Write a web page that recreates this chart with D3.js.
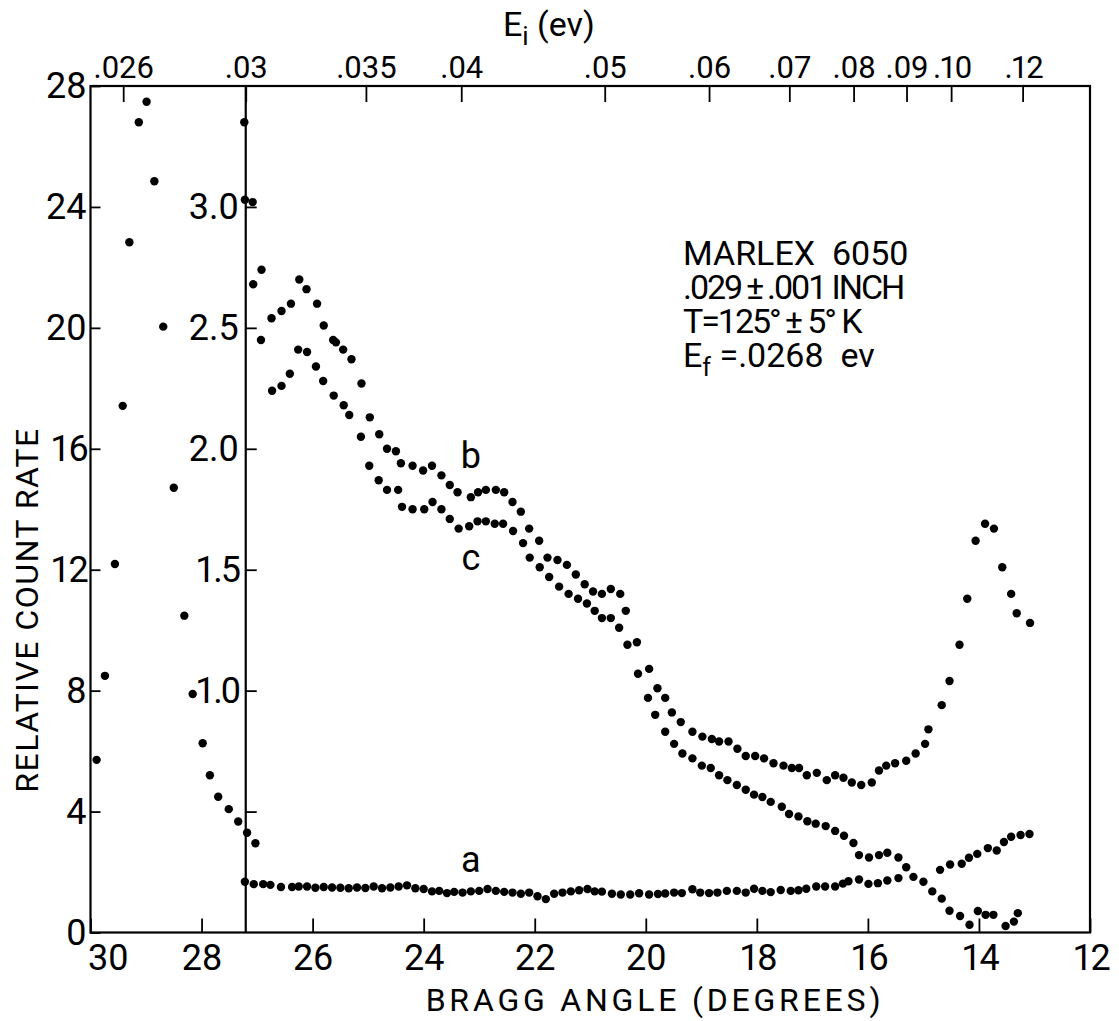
<!DOCTYPE html>
<html>
<head>
<meta charset="utf-8">
<script src="https://cdn.jsdelivr.net/npm/d3@7"></script>
<style>
  html, body { margin: 0; padding: 0; background: #fff; }
  svg { display: block; }
  text { font-family: Roboto, "Open Sans", "DejaVu Sans", sans-serif; font-weight: 400; fill: #000; white-space: pre; }
</style>
</head>
<body>
<svg id="chart" width="1119" height="1021"></svg>
<script>
// ---- Bragg-angle scan of MARLEX 6050: left peak on the 0-28 scale, curves a, b, c on the inset 0-3.5 scale ----

// Left-hand peak (relative count rate, outer scale)
const peakAngle = [29.89, 29.74, 29.56, 29.42, 29.30, 29.13, 28.99, 28.85, 28.69, 28.50, 28.31, 28.16, 27.98, 27.85, 27.70, 27.51, 27.34, 27.18, 27.03];
const peakRate  = [5.71, 8.49, 12.19, 17.42, 22.83, 26.80, 27.48, 24.85, 20.04, 14.71, 10.48, 7.89, 6.26, 5.20, 4.49, 4.08, 3.67, 3.30, 2.95];

// Curve b (inset scale)
const bAngle = [27.23, 27.08, 26.92, 26.74, 26.56, 26.39, 26.24, 26.11, 25.92, 25.80, 25.63, 25.58, 25.45, 25.30, 25.12, 24.97, 24.80, 24.66, 24.50, 24.41, 24.20, 24.01, 23.85, 23.68, 23.53, 23.39, 23.15, 23.02, 22.88, 22.70, 22.55, 22.40, 22.25, 22.10, 21.92, 21.77, 21.59, 21.42, 21.26, 21.10, 20.95, 20.79, 20.63, 20.46, 20.36, 20.16, 19.94, 19.79, 19.65, 19.53, 19.37, 19.16, 18.98, 18.81, 18.68, 18.51, 18.35, 18.20, 18.03, 17.87, 17.70, 17.52, 17.37, 17.24, 17.10, 16.92, 16.74, 16.59, 16.44, 16.29, 16.12, 15.93, 15.80, 15.67, 15.51, 15.31, 15.14, 14.97, 14.91, 14.67, 14.53, 14.35, 14.21, 14.06, 13.89, 13.73, 13.58, 13.42, 13.32, 13.08];
const bRate  = [3.35, 3.02, 2.74, 2.54, 2.57, 2.60, 2.70, 2.66, 2.60, 2.51, 2.45, 2.44, 2.41, 2.37, 2.27, 2.13, 2.06, 2.00, 1.99, 1.94, 1.93, 1.91, 1.93, 1.89, 1.85, 1.82, 1.80, 1.82, 1.83, 1.83, 1.82, 1.78, 1.74, 1.67, 1.62, 1.55, 1.54, 1.52, 1.48, 1.44, 1.41, 1.40, 1.42, 1.40, 1.33, 1.20, 1.09, 1.01, 0.97, 0.91, 0.87, 0.83, 0.81, 0.80, 0.79, 0.79, 0.76, 0.73, 0.73, 0.72, 0.70, 0.69, 0.68, 0.68, 0.65, 0.66, 0.63, 0.65, 0.64, 0.62, 0.61, 0.62, 0.67, 0.69, 0.70, 0.71, 0.74, 0.78, 0.84, 0.94, 1.04, 1.19, 1.38, 1.62, 1.69, 1.67, 1.51, 1.40, 1.32, 1.28];

// Curve c (inset scale)
const cAngle = [27.22, 27.07, 26.93, 26.73, 26.56, 26.41, 26.26, 26.10, 25.94, 25.81, 25.62, 25.44, 25.34, 25.13, 24.98, 24.81, 24.66, 24.46, 24.39, 24.20, 23.99, 23.84, 23.68, 23.53, 23.37, 23.18, 23.03, 22.88, 22.72, 22.57, 22.39, 22.21, 22.09, 21.91, 21.74, 21.56, 21.39, 21.22, 21.06, 20.92, 20.79, 20.63, 20.48, 20.33, 20.14, 19.96, 19.83, 19.65, 19.49, 19.34, 19.16, 18.99, 18.83, 18.68, 18.53, 18.36, 18.20, 18.05, 17.90, 17.75, 17.55, 17.42, 17.25, 17.09, 16.94, 16.76, 16.59, 16.43, 16.26, 16.16, 15.98, 15.80, 15.65, 15.45, 15.31, 15.18, 15.00, 14.84, 14.67, 14.53, 14.34, 14.17, 14.02, 13.88, 13.74, 13.52, 13.37, 13.30];
const cRate  = [3.03, 2.68, 2.45, 2.24, 2.26, 2.31, 2.41, 2.40, 2.34, 2.28, 2.22, 2.18, 2.14, 2.05, 1.93, 1.87, 1.83, 1.83, 1.76, 1.75, 1.75, 1.78, 1.75, 1.71, 1.67, 1.68, 1.70, 1.70, 1.69, 1.69, 1.66, 1.61, 1.55, 1.51, 1.47, 1.43, 1.40, 1.38, 1.36, 1.33, 1.30, 1.30, 1.26, 1.19, 1.07, 0.97, 0.90, 0.83, 0.78, 0.74, 0.72, 0.69, 0.68, 0.65, 0.63, 0.61, 0.59, 0.57, 0.56, 0.54, 0.52, 0.49, 0.48, 0.46, 0.45, 0.44, 0.42, 0.40, 0.37, 0.32, 0.31, 0.32, 0.33, 0.31, 0.27, 0.23, 0.21, 0.17, 0.14, 0.09, 0.068, 0.032, 0.089, 0.073, 0.073, 0.027, 0.045, 0.080];

// Curve a (inset scale)
const aAngle = [27.22, 27.06, 26.89, 26.76, 26.57, 26.37, 26.25, 26.10, 25.95, 25.80, 25.65, 25.50, 25.35, 25.20, 25.05, 24.90, 24.75, 24.60, 24.45, 24.30, 24.15, 24.00, 23.85, 23.72, 23.58, 23.45, 23.30, 23.15, 23.00, 22.85, 22.70, 22.55, 22.40, 22.25, 22.10, 21.95, 21.80, 21.65, 21.50, 21.35, 21.20, 21.05, 20.92, 20.79, 20.61, 20.45, 20.28, 20.12, 19.94, 19.78, 19.65, 19.49, 19.35, 19.16, 19.02, 18.86, 18.71, 18.54, 18.36, 18.20, 18.05, 17.90, 17.75, 17.57, 17.39, 17.25, 17.11, 16.93, 16.77, 16.59, 16.45, 16.35, 16.16, 15.99, 15.82, 15.65, 15.45, 14.70, 14.52, 14.31, 14.18, 14.03, 13.84, 13.68, 13.55, 13.42, 13.25, 13.09];
const aRate  = [0.21, 0.20, 0.20, 0.197, 0.188, 0.188, 0.19, 0.19, 0.185, 0.188, 0.186, 0.185, 0.183, 0.186, 0.184, 0.19, 0.183, 0.186, 0.19, 0.195, 0.183, 0.18, 0.17, 0.172, 0.163, 0.168, 0.165, 0.17, 0.172, 0.18, 0.172, 0.168, 0.165, 0.16, 0.165, 0.15, 0.138, 0.16, 0.165, 0.17, 0.175, 0.18, 0.17, 0.169, 0.16, 0.157, 0.157, 0.162, 0.157, 0.159, 0.161, 0.165, 0.163, 0.179, 0.165, 0.163, 0.165, 0.172, 0.172, 0.165, 0.181, 0.172, 0.167, 0.176, 0.172, 0.175, 0.181, 0.19, 0.19, 0.19, 0.202, 0.212, 0.219, 0.201, 0.204, 0.215, 0.225, 0.259, 0.281, 0.284, 0.309, 0.325, 0.349, 0.339, 0.374, 0.396, 0.403, 0.407];

// Axis ticks
const angleTicks  = [30, 28, 26, 24, 22, 20, 18, 16, 14, 12];
const outerTicks  = [0, 4, 8, 12, 16, 20, 24, 28];
const insetTicks  = [0.5, 1.0, 1.5, 2.0, 2.5, 3.0];
const insetLabels = ["", "1.0", "1.5", "2.0", "2.5", "3.0"];
const energyTicks  = [0.026, 0.03, 0.035, 0.04, 0.05, 0.06, 0.07, 0.08, 0.09, 0.10, 0.12];
const energyLabels = [".026", ".03", ".035", ".04", ".05", ".06", ".07", ".08", ".09", ".10", ".12"];
const insetStartEnergy = 0.03;

// Sample description lines
const noteLines = ["MARLEX\u00A0\u00A06050", ".029\u2009±\u2009.001 INCH", "T=125°\u2009±\u00A05°\u00A0K"];

// E = K / sin^2(theta) for the analyser crystal
const K = 0.00627;
const angleOfEnergy = E => Math.asin(Math.sqrt(K / E)) * 180 / Math.PI;

const svg = d3.select("#chart");
svg.append("rect").attr("width", 1119).attr("height", 1021).attr("fill", "#fff");

const x  = d3.scaleLinear().domain([30, 12]).range([90.5, 1090]);
const y  = d3.scaleLinear().domain([0, 28]).range([932.5, 86]);
const y2 = d3.scaleLinear().domain([0, 3.5]).range([932.5, 86]);

const insetX = x(angleOfEnergy(insetStartEnergy));

// Lettering: the stencil "1" is a plain bar, so labels holding one are set a little tighter
function tightenOnes(sel) {
  sel.filter(function () { return d3.select(this).text().includes("1"); })
    .attr("letter-spacing", "-0.06em");
}

// Frame
svg.append("rect")
  .attr("x", x(30)).attr("y", y(28))
  .attr("width", x(12) - x(30)).attr("height", y(0) - y(28))
  .attr("fill", "none").attr("stroke", "#000").attr("stroke-width", 2.2);

// Inset axis line
svg.append("line")
  .attr("x1", insetX).attr("x2", insetX).attr("y1", y(28)).attr("y2", y(0))
  .attr("stroke", "#000").attr("stroke-width", 2.2);

function styleAxis(g, size) {
  g.select(".domain").remove();
  g.selectAll(".tick line").attr("stroke", "#000").attr("stroke-width", 1.8);
  g.selectAll(".tick text").attr("font-size", size).attr("fill", "#000")
    .style("font-family", "Roboto, 'Open Sans', sans-serif").style("font-weight", 400);
  tightenOnes(g.selectAll(".tick text"));
}

// Bottom axis
const gx = svg.append("g").attr("transform", `translate(0,${y(0)})`)
  .call(d3.axisBottom(x).tickValues(angleTicks).tickFormat(d3.format("d"))
    .tickSizeInner(-14).tickSizeOuter(0).tickPadding(12));
styleAxis(gx, 36);
gx.selectAll(".tick").filter(d => d === 30).select("text").attr("text-anchor", "start").attr("x", -3);

// Left axis
const gy = svg.append("g").attr("transform", `translate(${x(30)},0)`)
  .call(d3.axisLeft(y).tickValues(outerTicks).tickFormat(d3.format("d"))
    .tickSizeInner(-10).tickSizeOuter(0).tickPadding(4));
styleAxis(gy, 36);

// Inset axis
const gy2 = svg.append("g").attr("transform", `translate(${insetX},0)`)
  .call(d3.axisLeft(y2).tickValues(insetTicks).tickFormat((d, i) => insetLabels[i])
    .tickSizeInner(-11).tickSizeOuter(0).tickPadding(7));
styleAxis(gy2, 36);

// Top energy axis
const gt = svg.append("g").attr("transform", `translate(0,${y(28)})`)
  .call(d3.axisTop(x).tickValues(energyTicks.map(angleOfEnergy))
    .tickFormat((d, i) => energyLabels[i])
    .tickSizeInner(-16).tickSizeOuter(0).tickPadding(8));
styleAxis(gt, 31);

// Axis titles
svg.append("text")
  .attr("transform", "translate(38,610) rotate(-90)")
  .attr("text-anchor", "middle").attr("font-size", 32)
  .attr("letter-spacing", 1.5)
  .text("RELATIVE COUNT RATE");

svg.append("text")
  .attr("x", 655).attr("y", 1011)
  .attr("text-anchor", "middle").attr("font-size", 32)
  .attr("letter-spacing", 3.8)
  .text("BRAGG ANGLE (DEGREES)");

const eTitle = svg.append("text").attr("x", 503).attr("y", 36).attr("font-size", 34);
eTitle.append("tspan").text("E");
eTitle.append("tspan").attr("font-size", 26).attr("dy", 9).text("i");
eTitle.append("tspan").attr("dy", -9).text(" (ev)");

// Sample description
const note = svg.append("g").attr("font-size", 34);
noteLines.forEach((s, i) => {
  note.append("text").attr("x", 683).attr("y", 265 + i * 34).text(s);
});
tightenOnes(note.selectAll("text"));
const ef = note.append("text").attr("x", 683).attr("y", 367);
ef.append("tspan").text("E");
ef.append("tspan").attr("font-size", 25).attr("dy", 9).text("f");
ef.append("tspan").attr("dy", -9).text("\u00A0=.0268\u00A0\u00A0ev");

// Curve labels
const curveLabel = (t, lx, ly) => svg.append("text").attr("x", lx).attr("y", ly)
  .attr("text-anchor", "middle").attr("font-size", 36).text(t);
curveLabel("b", x(23.15), y2(1.92));
curveLabel("c", x(23.15), y2(1.50));
curveLabel("a", x(23.15), y2(0.25));

// Data points
const dotR = 4.2;
function drawDots(angles, rates, yScale) {
  svg.append("g").selectAll("circle")
    .data(angles.map((a, i) => [a, rates[i]]))
    .join("circle")
    .attr("cx", d => x(d[0])).attr("cy", d => yScale(d[1]))
    .attr("r", dotR).attr("fill", "#000");
}
drawDots(peakAngle, peakRate, y);
drawDots(bAngle, bRate, y2);
drawDots(cAngle, cRate, y2);
drawDots(aAngle, aRate, y2);
</script>
</body>
</html>
